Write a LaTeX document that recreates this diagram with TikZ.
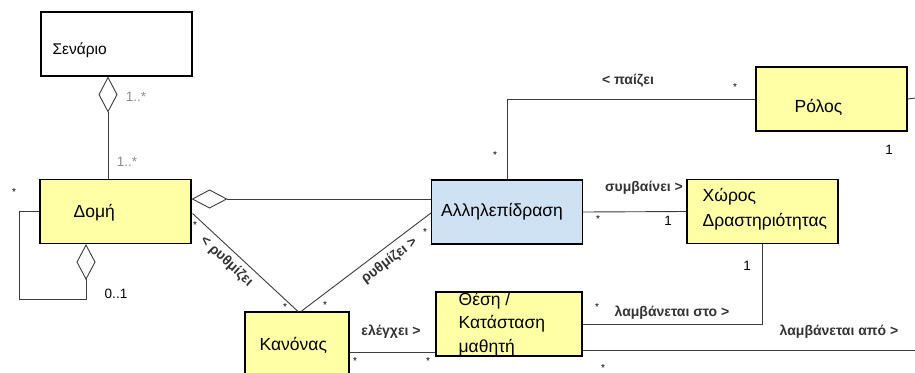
\documentclass[tikz,border=0pt]{standalone}
\usepackage{fontspec}
\setmainfont{Liberation Sans}
\usetikzlibrary{arrows.meta,positioning,calc}
\definecolor{boxyellow}{HTML}{FFFFA6}
\definecolor{boxblue}{HTML}{CFE2F3}
\definecolor{edgegray}{HTML}{3C3C3C}
\definecolor{multgray}{HTML}{8C8C8C}

\begin{document}
\begin{tikzpicture}[x=1pt,y=-1pt,
  cls/.style={draw=black,line width=1.1pt,fill=boxyellow,minimum width=151pt,minimum height=64pt,inner sep=0pt},
  conn/.style={draw=edgegray,line width=0.9pt},
  aggr/.style={conn,-{Diamond[open,length=36pt,width=19pt,line width=0.9pt]}},
  clsname/.style={font=\fontsize{17.5}{23.5}\selectfont,anchor=west,align=left,inner sep=0pt},
  rel/.style={font=\bfseries\fontsize{14}{16}\selectfont,text=black!80,inner sep=2pt},
  mult/.style={font=\fontsize{13.5}{15}\selectfont,inner sep=0pt},
  star/.style={font=\fontsize{10}{10}\selectfont,inner sep=0pt}]
\clip (0,0) rectangle (915,372);
% classes
\node[cls,fill=white] (sen) at (116.5,44) {};
\node[cls] (dom) at (115.5,211.5) {};
\node[cls,fill=boxblue] (all) at (507,212) {};
\node[cls] (xor) at (762.5,211.5) {};
\node[cls] (rol) at (831.5,99) {};
\node[cls,minimum width=104pt,minimum height=80pt] (kan) at (297,352) {};
\node[cls,minimum width=146pt] (the) at (509,324) {};
\node[clsname,font=\fontsize{15.5}{17}\selectfont] at ($(sen.west)+(12,6)$) {Σενάριο};
\node[clsname] at ($(dom.west)+(34,1)$) {Δομή};
\node[clsname] at ($(all.west)+(10,0)$) {Αλληλεπίδραση};
\node[clsname,font=\fontsize{17.5}{25}\selectfont] at ($(xor.west)+(16,-2)$) {Χώρος\\Δραστηριότητας};
\node[clsname] at ($(rol.west)+(39,8)$) {Ρόλος};
\node[clsname] at ($(kan.west)+(15,-7)$) {Κανόνας};
\node[clsname] at ($(the.west)+(23,0)$) {Θέση /\\Κατάσταση\\μαθητή};
% free ends at the border
\coordinate (roledge) at (915,98);
\coordinate (amedge) at (915,350);
% connectors
\draw[aggr] ($(dom.north)+(-7.5,0)$) -- ($(sen.south)+(-8.5,0)$);
\draw[aggr] (dom.west) -- ++(-20,0) -- ++(0,88) -| ($(dom.south)+(-29.5,0)$);
\draw[aggr] ($(all.west)+(0,-13)$) -- ($(dom.east)+(0,-12.5)$);
\draw[conn] ($(dom.east)+(1,2)$) -- node[rel,sloped,below=3pt,pos=0.4] {< ρυθμίζει} ($(kan.north)+(1,0)$);
\draw[conn] ($(kan.north)+(4,0)$) -- node[rel,sloped,below=4pt,pos=0.62] {ρυθμίζει >} ($(all.west)+(0,1)$);
\draw[conn] (kan.east) -- (kan.east -| the.west);
\draw[conn] (the.east) -| (xor.south);
\draw[conn] ($(the.east)+(0,26)$) -- (amedge);
\draw[conn] (all.east) -- (xor.west);
\draw[conn] (rol.west) -| (all.north);
\draw[conn] (rol.east) -- (roledge);
% association labels
\node[rel] (lpaizei) at (628,81) {< παίζει};
\node[rel] (lsymb) at (644,188) {συμβαίνει >};
\node[rel] (lelegx) at (391,332) {ελέγχει >};
\node[rel] (lsto) at (672,313) {λαμβάνεται στο >};
\node[rel] (lapo) at (839,332) {λαμβάνεται από >};
% multiplicities
\node[mult,text=multgray] at (136,97) {1..*};
\node[mult,text=multgray] at (127,162) {1..*};
\node[mult] at (116,294) {0..1};
\node[mult] at (668,221) {1};
\node[mult] at (889,150) {1};
\node[mult] at (747,266) {1};
\foreach \sx/\sy in {14/192,195/225,285/307,325/305,425/232,598/219,495/155,735/87,597/307,355/361,428/361,603/368}
  \node[star] at (\sx,\sy) {*};
\end{tikzpicture}
\end{document}
